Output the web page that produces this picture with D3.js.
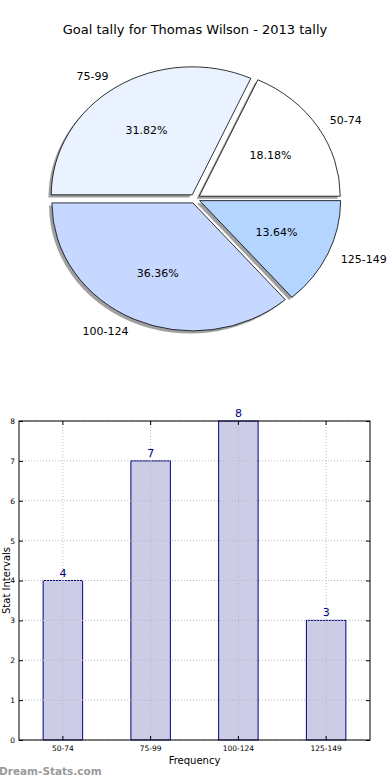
<!DOCTYPE html>
<html>
<head>
<meta charset="utf-8">
<script src="https://cdn.jsdelivr.net/npm/d3@7"></script>
<style>
  html, body { margin: 0; padding: 0; background: #fff; }
  svg { display: block; font-family: "DejaVu Sans", sans-serif; }
</style>
</head>
<body>
<svg id="chart" width="390" height="780"></svg>
<script>
const title = "Goal tally for Thomas Wilson - 2013 tally";
const categories = ["50-74", "75-99", "100-124", "125-149"];
const counts = [4, 7, 8, 3];
const sliceColors = ["#ffffff", "#eaf1ff", "#c6d8ff", "#b4d5ff"];
const yTicks = [0, 1, 2, 3, 4, 5, 6, 7, 8];
const xLabel = "Frequency";
const yLabel = "Stat Intervals";
const watermark = "Dream-Stats.com";

const svg = d3.select("#chart");

// ---- Title
svg.append("text").attr("x", 195).attr("y", 34).attr("text-anchor", "middle")
  .attr("font-size", 13).attr("fill", "#000").text(title);

// ---- Pie (elliptical, matplotlib style: CCW from 3 o'clock)
const cx = 195, cy = 198.7, rx = 141, ry = 128, explode = 0.036;
const pie = d3.pie().sort(null).value(d => d)(counts);
const total = d3.sum(counts);

function slicePath(a0, a1, ox, oy) {
  const x0 = ox + rx * Math.cos(a0), y0 = oy - ry * Math.sin(a0);
  const x1 = ox + rx * Math.cos(a1), y1 = oy - ry * Math.sin(a1);
  const large = (a1 - a0) > Math.PI ? 1 : 0;
  return `M${ox},${oy}L${x0},${y0}A${rx},${ry} 0 ${large} 0 ${x1},${y1}Z`;
}

const slices = pie.map((p, i) => {
  const a0 = p.startAngle, a1 = p.endAngle, mid = (a0 + a1) / 2;
  const ox = cx + explode * rx * Math.cos(mid);
  const oy = cy - explode * ry * Math.sin(mid);
  return { i, a0, a1, mid, ox, oy, value: p.value };
});

const gPie = svg.append("g");
// shadows
gPie.selectAll("path.shadow").data(slices).enter().append("path")
  .attr("class", "shadow")
  .attr("d", s => slicePath(s.a0, s.a1, s.ox - 2.8, s.oy + 2.6))
  .attr("fill", "#777777").attr("opacity", 0.7);
// wedges
gPie.selectAll("path.wedge").data(slices).enter().append("path")
  .attr("class", "wedge")
  .attr("d", s => slicePath(s.a0, s.a1, s.ox, s.oy))
  .attr("fill", s => sliceColors[s.i]).attr("stroke", "#000").attr("stroke-width", 0.8);
// percentages
gPie.selectAll("text.pct").data(slices).enter().append("text")
  .attr("x", s => s.ox + 0.6 * rx * Math.cos(s.mid))
  .attr("y", s => s.oy - 0.6 * ry * Math.sin(s.mid))
  .attr("dy", "0.35em").attr("text-anchor", "middle").attr("font-size", 11)
  .text(s => (s.value / total * 100).toFixed(2) + "%");
// labels
gPie.selectAll("text.lab").data(slices).enter().append("text")
  .attr("x", s => s.ox + 1.1 * rx * Math.cos(s.mid))
  .attr("y", s => s.oy - 1.1 * ry * Math.sin(s.mid))
  .attr("dy", "0.35em")
  .attr("text-anchor", s => Math.cos(s.mid) > 0 ? "start" : "end")
  .attr("font-size", 11)
  .text(s => categories[s.i]);

// ---- Bar chart
const L = 19, R = 370, T = 421, B = 740;
const x = d3.scaleBand().domain(categories).range([L, R]).paddingInner(0.55).paddingOuter(0.275);
const y = d3.scaleLinear().domain([0, 8]).range([B, T]);
const xc = d => x(d) + x.bandwidth() / 2;

const gBar = svg.append("g");
gBar.selectAll("rect").data(categories).enter().append("rect")
  .attr("x", d => x(d)).attr("y", (d, i) => y(counts[i]))
  .attr("width", x.bandwidth()).attr("height", (d, i) => B - y(counts[i]))
  .attr("fill", "#ccccE6").attr("stroke", "#000080").attr("stroke-width", 1);

// grid
gBar.selectAll("line.hg").data(yTicks).enter().append("line")
  .attr("x1", L).attr("x2", R).attr("y1", d => y(d)).attr("y2", d => y(d))
  .attr("stroke", "#b8b8b8").attr("stroke-dasharray", "1,2");
gBar.selectAll("line.vg").data(categories).enter().append("line")
  .attr("x1", xc).attr("x2", xc).attr("y1", T).attr("y2", B)
  .attr("stroke", "#b8b8b8").attr("stroke-dasharray", "1,2");

// value labels
gBar.selectAll("text.val").data(categories).enter().append("text")
  .attr("x", xc).attr("y", (d, i) => y(counts[i]) - 4)
  .attr("text-anchor", "middle").attr("font-size", 11).attr("fill", "#000080")
  .text((d, i) => counts[i]);

// axes frame
gBar.append("rect").attr("x", L).attr("y", T).attr("width", R - L).attr("height", B - T)
  .attr("fill", "none").attr("stroke", "#000").attr("stroke-width", 1);

// y ticks
const yAxis = d3.axisLeft(y).tickValues(yTicks).tickSize(-4).tickPadding(4);
const gy = gBar.append("g").attr("transform", `translate(${L},0)`).call(yAxis);
gy.select(".domain").remove();
gy.selectAll("text").attr("font-size", 7.5).attr("font-family", "DejaVu Sans, sans-serif").attr("fill", "#000");
gy.selectAll("line").attr("stroke", "#000");
const gyr = gBar.append("g").attr("transform", `translate(${R},0)`).call(d3.axisRight(y).tickValues(yTicks).tickSize(-4).tickFormat(""));
gyr.select(".domain").remove();

// x ticks
const gx = gBar.append("g").attr("transform", `translate(0,${B})`).call(d3.axisBottom(x).tickSize(-4).tickPadding(6));
gx.select(".domain").remove();
gx.selectAll("text").attr("font-size", 7.5).attr("font-family", "DejaVu Sans, sans-serif").attr("fill", "#000");
const gxt = gBar.append("g").attr("transform", `translate(0,${T})`).call(d3.axisTop(x).tickSize(-4).tickFormat(""));
gxt.select(".domain").remove();

// axis labels
svg.append("text").attr("x", (L + R) / 2).attr("y", 764).attr("text-anchor", "middle")
  .attr("font-size", 10).text(xLabel);
svg.append("text").attr("transform", `translate(9.5,${(T + B) / 2}) rotate(-90)`)
  .attr("text-anchor", "middle").attr("font-size", 10).text(yLabel);

// watermark
svg.append("text").attr("x", -1).attr("y", 775).attr("font-size", 10.5)
  .attr("font-weight", "bold").attr("fill", "#9a9a9a").text(watermark);
</script>
</body>
</html>
